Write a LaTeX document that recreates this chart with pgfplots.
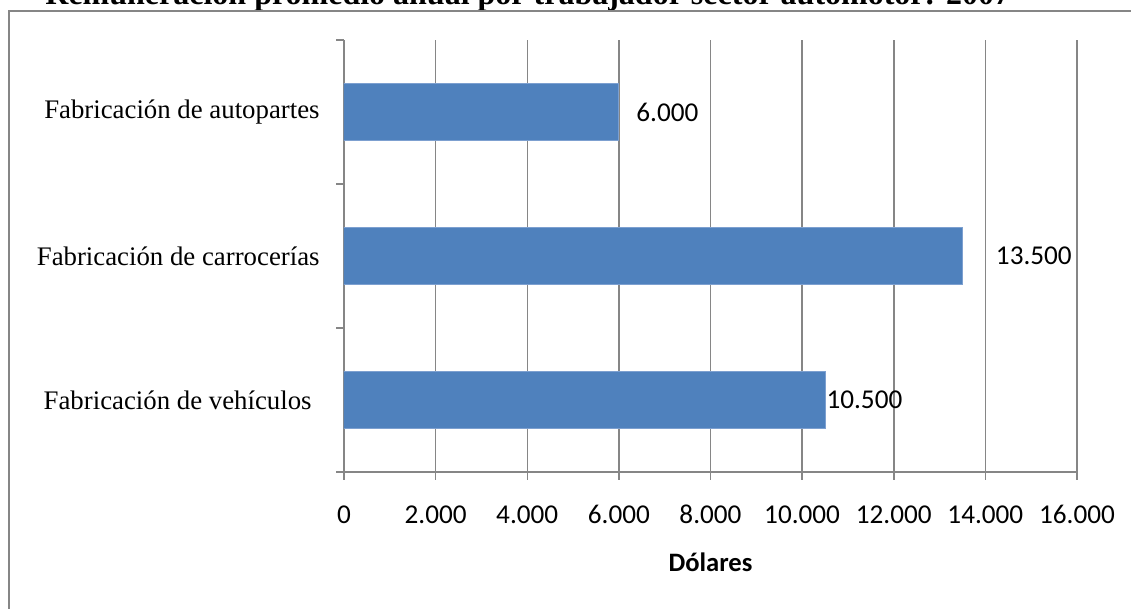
\documentclass[border=0pt]{standalone}
\usepackage{fontspec}
\setmainfont{Liberation Serif}
\newfontfamily\calibri{Carlito}
\usepackage{pgfplots}
\usepackage{pgfplotstable}
\pgfplotsset{compat=1.18}
\definecolor{gridgray}{RGB}{134,134,134}
\definecolor{barblue}{RGB}{79,129,189}
\definecolor{baredge}{RGB}{125,160,208}
\pgfplotstableread{
y val off lab
0 10500 0.5 10.500
1 13500 16.5 13.500
2 6000 8.5 6.000
}\datatable
\begin{document}
\begin{tikzpicture}
\useasboundingbox (0,0) rectangle (565.5pt,-304.5pt);
\clip (0,0) rectangle (565.5pt,-304.5pt);
\node[anchor=base west, inner sep=0pt, font=\bfseries\fontsize{16}{18}\selectfont] at (22.5pt,-2.5pt) {Remuneración promedio anual por trabajador sector automotor: 2007};
\draw[gridgray, line width=1pt] (4.5pt,-320pt) -- (4.5pt,-5.5pt) -- (580pt,-5.5pt);
\begin{axis}[
  at={(172pt,-236pt)}, anchor=south west,
  scale only axis, width=366.5pt, height=216pt,
  xmin=0, xmax=16000, ymin=-0.5, ymax=2.5,
  axis x line*=bottom, axis y line*=left,
  axis line style={draw=gridgray, line width=0.75pt},
  every tick/.style={gridgray, line width=0.75pt},
  tick align=outside,
  major tick length=3.75pt,
  scaled x ticks=false,
  xtick={0,2000,4000,6000,8000,10000,12000,14000,16000},
  xticklabels={0,2.000,4.000,6.000,8.000,10.000,12.000,14.000,16.000},
  xticklabel style={font=\calibri\fontsize{13.6}{16}\selectfont, anchor=base, inner sep=0pt, yshift=-22pt},
  xmajorgrids, grid style={gridgray, line width=0.75pt},
  ytick={-0.5,0.5,1.5,2.5}, yticklabels={},
  extra y ticks={0,1,2},
  extra y tick labels={Fabricación de vehículos\hspace*{4pt},Fabricación de carrocerías,Fabricación de autopartes},
  extra y tick style={major tick length=0pt, yticklabel style={font=\fontsize{13.4}{16}\selectfont, anchor=east, inner sep=0pt, xshift=-12pt}},
  xlabel={Dólares},
  xlabel style={font=\calibri\bfseries\fontsize{13.3}{16}\selectfont, at={(axis description cs:0.5,0)}, anchor=base, inner sep=0pt, yshift=-49.5pt},
  xbar, bar width=0.4, bar shift=0pt,
  point meta=explicit symbolic,
  nodes near coords,
  visualization depends on={\thisrow{off} \as \off},
  every node near coord/.append style={font=\calibri\fontsize{13.6}{16}\selectfont, anchor=west, inner sep=0pt, xshift=\off pt, black},
]
\addplot[fill=barblue, draw=baredge, line width=0.5pt] table[x=val, y=y, meta=lab] {\datatable};
\end{axis}
\end{tikzpicture}
\end{document}
